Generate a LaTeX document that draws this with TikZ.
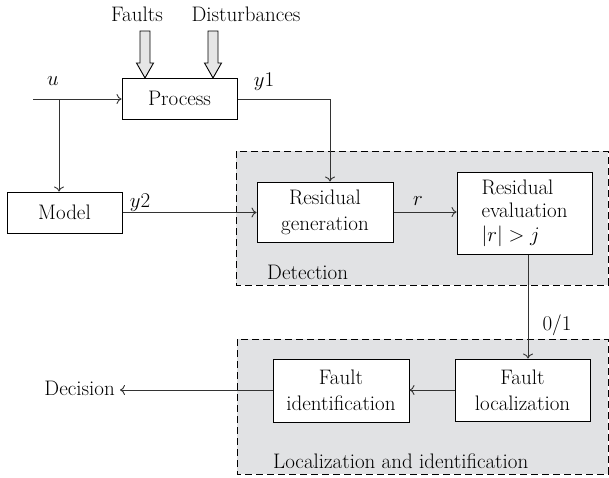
\documentclass[tikz,border=0pt]{standalone}
\usepackage{fontspec}
\usetikzlibrary{arrows.meta,calc}
\definecolor{zonegray}{HTML}{E1E2E4}
\definecolor{inputgray}{HTML}{E6E6E6}
\definecolor{inkgray}{HTML}{333333}
\tikzset{
  block/.style={draw, line width=1pt, fill=white, align=center, inner sep=0pt},
  flow/.style={line width=0.9pt, draw=inkgray, -{To[length=5pt,width=10pt]}},
  zone/.style={draw, dash pattern=on 7pt off 4pt, line width=1pt, fill=zonegray},
  lbl/.style={inner sep=0pt},
  hollow/.style={draw, line width=0.9pt, fill=inputgray}
}
\begin{document}
\begin{tikzpicture}[x=1pt,y=-1pt,font=\fontsize{21}{25}\selectfont]
\useasboundingbox (0,0) rectangle (609,477);

% dashed zones
\draw[zone] (236,151) rectangle (608,285);
\draw[zone] (237,339) rectangle (608,474);
\node[lbl, anchor=west] (detlbl) at (267,272) {Detection};
\node[lbl, anchor=west] (loclbl) at (273,461) {Localization and identification};

% blocks
\node[block, minimum width=115pt, minimum height=41pt] (proc) at (179.5,98.5) {Process};
\node[block, minimum width=115pt, minimum height=41pt] (model) at (64.5,212.5) {Model};
\node[block, minimum width=136pt, minimum height=60pt, font=\fontsize{21}{26}\selectfont] (resgen) at (325,212) {Residual\\generation};
\node[block, minimum width=135pt, minimum height=82pt, align=left, font=\fontsize{21}{23.5}\selectfont] (reseval) at (524.5,213) {Residual\\evaluation\\$|r|>j$};
\node[block, minimum width=136pt, minimum height=63pt, font=\fontsize{21}{26}\selectfont] (fid) at (341,390.5) {Fault\\identification};
\node[block, minimum width=135pt, minimum height=62pt, font=\fontsize{21}{26}\selectfont] (floc) at (522.5,390) {Fault\\localization};

% external inputs
\node[lbl] (faults) at (137,14) {Faults};
\node[lbl] (dist) at (246,14) {Disturbances};
\foreach \cx in {145,213}{
  \draw[hollow] (\cx-5,31) -- (\cx+5,31) -- (\cx+5,63) -- (\cx+8.5,63) -- (\cx,78)
    -- (\cx-8.5,63) -- (\cx-5,63) -- cycle;
}

% signal lines
\coordinate (uin) at (33,99);
\coordinate (ubr) at (59,99);
\coordinate (y1c) at (330,99);
\coordinate (outc) at (528,250);
\node[lbl, anchor=east] (dec) at (115,388) {Decision};

\draw[flow] (uin) -- (proc.west |- uin);
\draw[flow] (ubr) -- (ubr |- model.north);
\draw[flow] (proc.east |- y1c) -- (y1c) -- (y1c |- resgen.north);
\draw[flow] (model.east) -- (resgen.west |- model.east);
\draw[flow] (resgen.east) -- (reseval.west |- resgen.east);
\draw[flow] (outc |- reseval.south) -- (outc |- floc.north);
\draw[flow] (floc.west) -- (fid.east |- floc.west);
\draw[flow] (fid.west |- floc.west) -- ($(dec.east |- floc.west)+(5,0)$);

% signal labels
\node[lbl] (ulbl) at (53,81) {$u$};
\node[lbl] (y1lbl) at (264,82) {$y$1};
\node[lbl] (y2lbl) at (140,203) {$y$2};
\node[lbl] (rlbl) at (418,201) {$r$};
\node[lbl] (binlbl) at (557,325) {0/1};
\end{tikzpicture}
\end{document}
